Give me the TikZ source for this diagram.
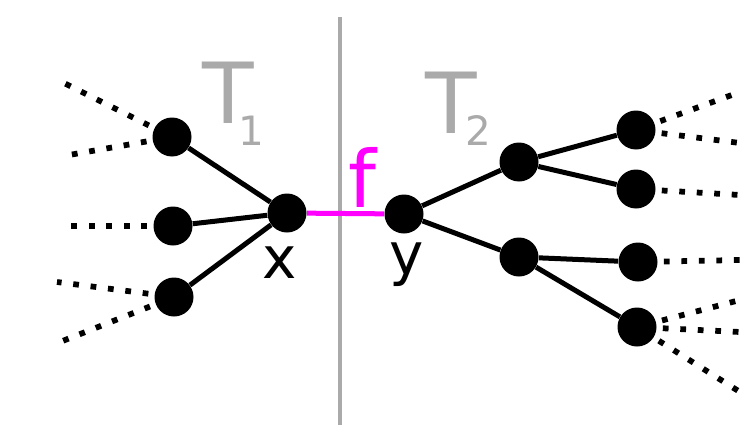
\documentclass[tikz,border=0pt]{standalone}
\usepackage{fontspec}
\setmainfont{DejaVu Sans}
\usetikzlibrary{positioning}
\definecolor{cutgray}{RGB}{170,170,170}
\definecolor{cutmagenta}{RGB}{255,0,255}
\tikzset{
  vertex/.style={circle,fill=black,inner sep=0pt,minimum size=0.78cm},
  treeedge/.style={line width=0.1cm},
  leafedge/.style={line width=0.115cm,dash pattern=on 0.115cm off 0.235cm,dash phase=-0.12cm},
  lbl/.style={inner sep=0pt,anchor=base},
}

\begin{document}
\begin{tikzpicture}
\useasboundingbox (0,0) rectangle (14.8,8.62);
% cut between the two trees
\coordinate (cuttop) at (6.8,8.28);
\coordinate (cutbot) at (6.8,0.12);
\draw[cutgray,line width=0.08cm] (cutbot) -- (cuttop);

% Tree T1
\node[vertex] (x) at (5.74,4.36) {};
\node[vertex] (a1) at (3.44,5.88) {};
\node[vertex] (a2) at (3.46,4.10) {};
\node[vertex] (a3) at (3.48,2.68) {};
\foreach \n in {a1,a2,a3} {
  \draw[treeedge] (x) -- (\n);
}

% Tree T2
\node[vertex] (y) at (8.08,4.34) {};
\node[vertex] (b1) at (10.38,5.38) {};
\node[vertex] (b2) at (10.38,3.48) {};
\node[vertex] (c1) at (12.72,6.02) {};
\node[vertex] (c2) at (12.72,4.84) {};
\node[vertex] (c3) at (12.76,3.38) {};
\node[vertex] (c4) at (12.74,2.08) {};
\foreach \u/\v in {y/b1,y/b2,b1/c1,b1/c2,b2/c3,b2/c4} {
  \draw[treeedge] (\u) -- (\v);
}

% the edge f
\draw[cutmagenta,line width=0.1cm] (x) -- (y);

% rest of the graph (dotted)
\coordinate (l1) at (1.20,7.00);
\coordinate (l2) at (1.38,5.52);
\coordinate (l3) at (1.26,4.10);
\coordinate (l4) at (1.14,2.98);
\coordinate (l5) at (1.20,1.78);
\coordinate (r1) at (14.8,6.78);
\coordinate (r2) at (14.8,5.76);
\coordinate (r3) at (14.8,4.72);
\coordinate (r4) at (14.8,3.42);
\coordinate (r5) at (14.8,2.62);
\coordinate (r6) at (14.8,1.98);
\coordinate (r7) at (14.8,0.78);
\foreach \n/\e in {a1/l1,a1/l2,a2/l3,a3/l4,a3/l5,
                   c1/r1,c1/r2,c2/r3,c3/r4,c4/r5,c4/r6,c4/r7} {
  \draw[leafedge] (\n) -- (\e);
}

% labels
\node[lbl,font=\fontsize{33}{33}\selectfont] (xname) at (5.6,3.06) {x};
\node[lbl,font=\fontsize{33}{33}\selectfont] (yname) at (8.14,3.14) {y};
\node[lbl,cutmagenta,font=\fontsize{45}{45}\selectfont] (fname) at (7.24,4.48) {f};
\node[lbl,anchor=base west,cutgray,font=\fontsize{48}{48}\selectfont] (T1) at (4.04,6.16)
  {T\kern-0.31cm\raisebox{-0.44cm}{\fontsize{23}{23}\selectfont 1}};
\node[lbl,anchor=base west,cutgray,font=\fontsize{48}{48}\selectfont] (T2) at (8.50,5.96)
  {T\kern-0.22cm\raisebox{-0.24cm}{\fontsize{23}{23}\selectfont 2}};
\end{tikzpicture}
\end{document}
